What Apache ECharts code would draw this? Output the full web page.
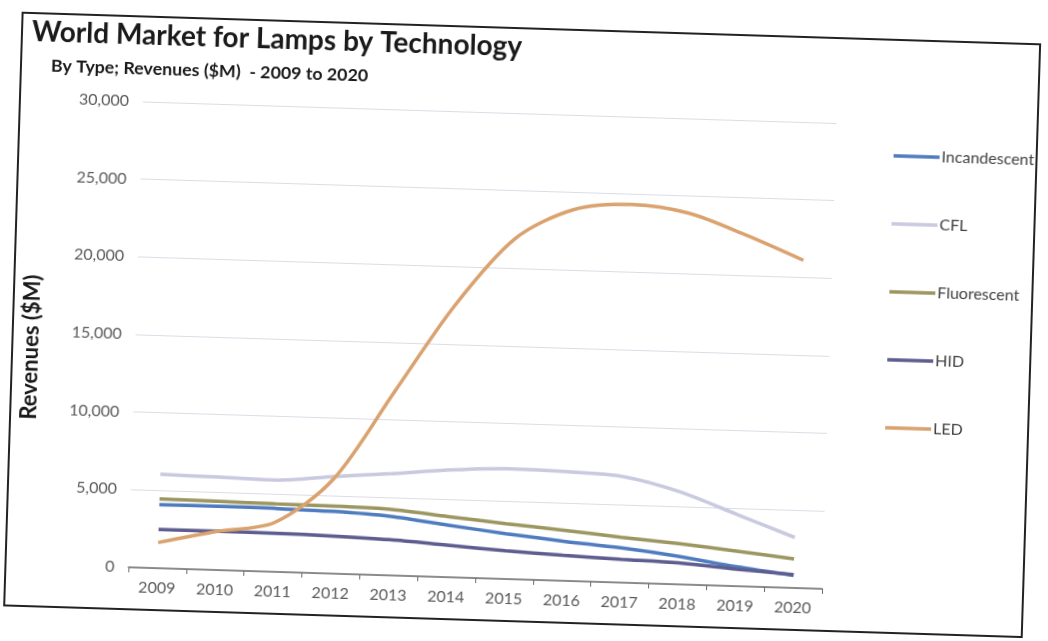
<!DOCTYPE html>
<html>
<head>
<meta charset="utf-8">
<script src="https://cdn.jsdelivr.net/npm/echarts@6/dist/echarts.min.js"></script>
<style>
  html, body { margin: 0; padding: 0; background: #ffffff; overflow: hidden; }
  #chart { width: 1048px; height: 641px; transform: rotate(1.78deg); transform-origin: 0 0; }
</style>
</head>
<body>
<div id="chart"></div>
<script>
const years = ['2009','2010','2011','2012','2013','2014','2015','2016','2017','2018','2019','2020'];
const incandescent = [4080, 4110, 4080, 4000, 3800, 3350, 2920, 2550, 2230, 1800, 1250, 800];
const cfl          = [6050, 5980, 5900, 6250, 6550, 6900, 7100, 7030, 6830, 5950, 4600, 3250];
const fluorescent  = [4460, 4420, 4380, 4350, 4250, 3900, 3560, 3250, 2920, 2620, 2260, 1860];
const hid          = [2490, 2500, 2480, 2420, 2300, 2060, 1820, 1640, 1500, 1380, 1100, 850];
const led          = [1650, 2480, 3170, 6100, 11800, 17500, 21900, 23900, 24350, 23900, 22600, 21100];
const yTicks = [0, 5000, 10000, 15000, 20000, 25000, 30000];

const seriesDefs = [
  { name: 'Incandescent', data: incandescent, color: '#4f7cc0' },
  { name: 'CFL',          data: cfl,          color: '#c9c9e0' },
  { name: 'Fluorescent',  data: fluorescent,  color: '#9c9660' },
  { name: 'HID',          data: hid,          color: '#5e5d8f' },
  { name: 'LED',          data: led,          color: '#d9a26e' }
];

const chart = echarts.init(document.getElementById('chart'));
const font = 'Lato, "Open Sans", sans-serif';
chart.setOption({
  animation: false,
  backgroundColor: '#ffffff',
  textStyle: { fontFamily: font },
  title: [
    { text: 'World Market for Lamps by Technology', left: 28, top: 12,
      textStyle: { fontFamily: font, fontSize: 28, fontWeight: 'bold', color: '#1a1a1a' } },
    { text: 'By Type; Revenues ($M)  - 2009 to 2020', left: 48, top: 50,
      textStyle: { fontFamily: font, fontSize: 17.8, fontWeight: 'bold', color: '#1a1a1a' } }
  ],
  graphic: [
    { type: 'rect', shape: { x: 23, y: 12, width: 1018, height: 593 },
      style: { fill: 'none', stroke: '#222222', lineWidth: 2 }, z: -1 },
    { type: 'text', x: 42, y: 346, rotation: Math.PI / 2,
      style: { text: 'Revenues ($M)', align: 'center', verticalAlign: 'middle',
        font: 'bold 22px Lato, "Open Sans", sans-serif', fill: '#1a1a1a' } }
  ],
  legend: {
    orient: 'vertical', left: 893, top: 115,
    icon: 'rect', itemWidth: 46, itemHeight: 3.5, itemGap: 52,
    data: seriesDefs.map(s => s.name),
    textStyle: { fontFamily: font, fontSize: 16, color: '#404040', padding: [0,0,0,-3] }
  },
  grid: { left: 146, right: 208, top: 97, bottom: 78, containLabel: false },
  xAxis: {
    type: 'category', data: years, boundaryGap: true,
    axisLine: { lineStyle: { color: '#6b6b6b', width: 1.5 } },
    axisTick: { show: true, length: 5, lineStyle: { color: '#6b6b6b' } },
    axisLabel: { fontFamily: font, fontSize: 16, color: '#5a5a5a', margin: 12 }
  },
  yAxis: {
    type: 'value', min: 0, max: 30000, interval: 5000,
    axisLine: { show: false }, axisTick: { show: false },
    axisLabel: { fontFamily: font, fontSize: 16, color: '#5a5a5a', margin: 14,
      formatter: v => yTicks.includes(v) ? v.toLocaleString('en-US') : '' },
    splitLine: { lineStyle: { color: '#dcdce6', width: 1 } }
  },
  series: seriesDefs.map(s => ({
    name: s.name, type: 'line', data: s.data, smooth: 0.3,
    symbol: 'none', color: s.color,
    lineStyle: { color: s.color, width: 3.5 }
  }))
});
</script>
</body>
</html>
